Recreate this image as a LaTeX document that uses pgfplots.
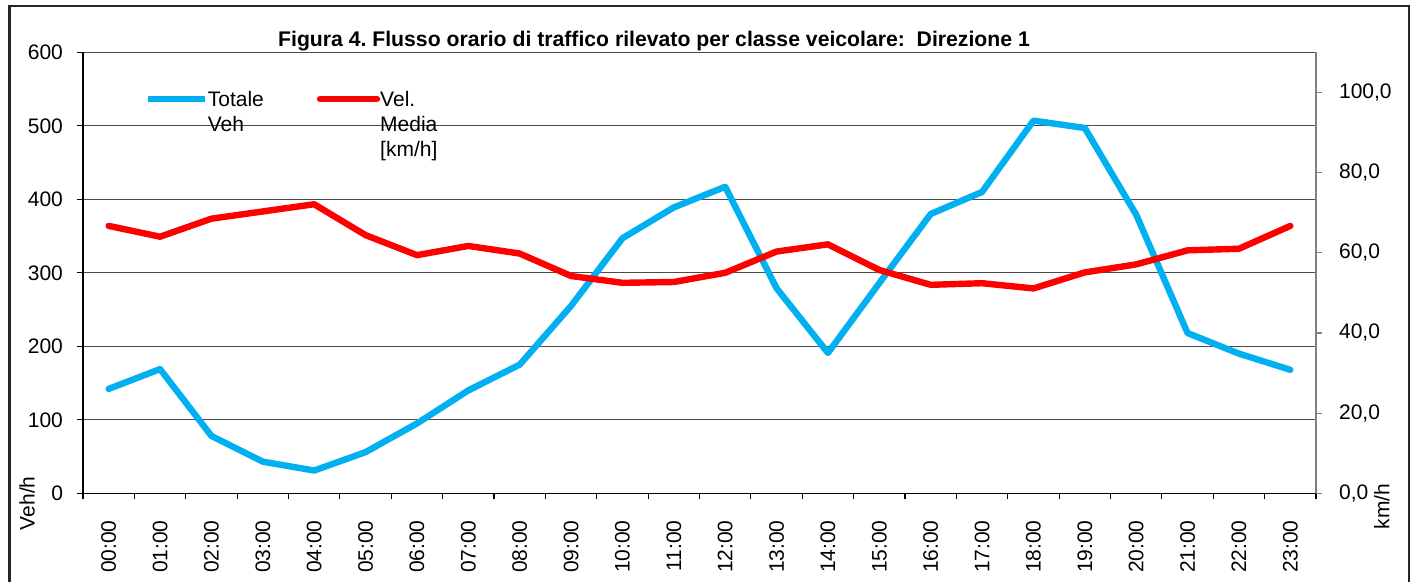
\documentclass[border=0pt]{standalone}
\usepackage{fontspec}
\setmainfont{Liberation Sans}
\usepackage{pgfplots}
\pgfplotsset{compat=1.18}
\definecolor{cblue}{RGB}{0,176,240}
\definecolor{cred}{RGB}{255,0,0}
\definecolor{axgray}{RGB}{128,128,128}
\frenchspacing
\begin{document}
\begin{tikzpicture}
\useasboundingbox (0,0) rectangle (708pt,291pt);
\pgfplotsset{
 common/.style={
  scale only axis, width=616.5pt, height=220.5pt,
  at={(41.5pt,44.35pt)}, anchor=south west,
  xmin=-0.5, xmax=23.5,
  tick align=outside,
  major tick length=3pt, minor tick length=3pt,
  font=\fontsize{10.5}{12.5}\selectfont,
  /pgf/number format/assume math mode=true,
 }
}
\begin{axis}[common,
  ymin=0, ymax=600, ytick={0,100,...,600},
  axis x line*=bottom, axis y line*=left,
  axis line style={black, line width=0.6pt},
  ytick style={black, line width=0.6pt},
  yticklabel style={xshift=-3.5pt},
  ymajorgrids, grid style={black!70, line width=0.6pt},
  xtick={0,...,23},
  xticklabels={00:00,01:00,02:00,03:00,04:00,05:00,06:00,07:00,08:00,09:00,10:00,11:00,12:00,13:00,14:00,15:00,16:00,17:00,18:00,19:00,20:00,21:00,22:00,23:00},
  major x tick style={draw=none},
  minor xtick={-0.5,0.5,...,23.5},
  minor x tick style={black, line width=0.6pt},
  xticklabel style={rotate=90, anchor=east, xshift=-7pt},
  ylabel={Veh/h},
  ylabel style={at={(axis description cs:-0.0454,-0.0227)}, anchor=center},
]
\addplot[cblue, line width=3.2pt, line cap=round, line join=round] coordinates {
(0,142) (1,169) (2,78) (3,43) (4,31) (5,56) (6,95) (7,140) (8,175) (9,255) (10,347) (11,389)
(12,417) (13,279) (14,191) (15,286) (16,380) (17,410) (18,507) (19,497) (20,379) (21,218) (22,190) (23,168)};
\end{axis}
\begin{axis}[common,
  ymin=0, ymax=110, ytick={0,20,...,100},
  axis y line*=right, axis x line=none,
  y axis line style={axgray, line width=0.6pt},
  ytick style={axgray, line width=0.6pt},
  yticklabel style={xshift=5pt, /pgf/number format/.cd, fixed, fixed zerofill, precision=1, use comma},
  ylabel={km/h},
  ylabel style={at={(axis description cs:1.0535,-0.03)}, anchor=center},
  legend columns=2,
  legend cell align=left,
  legend style={at={(axis description cs:0.0495,0.918)}, anchor=north west, draw=none, fill=none,
    inner sep=0pt, column sep=0pt, row sep=0pt, nodes={inner sep=0pt}},
  legend image code/.code={\draw[#1, line width=2pt, line cap=butt] (0pt,0pt) -- (26.5pt,0pt); \path (0pt,0pt) -- (28.5pt,0pt);},
]
\addlegendimage{cblue, line width=3.2pt}
\addplot[cred, line width=3.2pt, line cap=round, line join=round] coordinates {
(0,66.7) (1,64.0) (2,68.5) (3,70.3) (4,72.1) (5,64.4) (6,59.4) (7,61.7) (8,59.8) (9,54.2) (10,52.5) (11,52.7)
(12,55.0) (13,60.3) (14,62.1) (15,55.7) (16,52.0) (17,52.4) (18,51.1) (19,55.1) (20,57.1) (21,60.6) (22,61.0) (23,66.7)};
\legend{{\makebox[54.5pt][l]{\begin{tabular}[t]{@{}l@{}}Totale\\Veh\end{tabular}}},{\begin{tabular}[t]{@{}l@{}}Vel.\\Media\\{[km/h]}\end{tabular}}}
\end{axis}
\node[font=\bfseries\fontsize{10.6}{12.5}\selectfont, anchor=base] at (327pt,267.65pt) {Figura 4. Flusso orario di traffico rilevato per classe veicolare:\ \ Direzione 1};
\draw[line width=1.3pt, black!85] (4.75pt,-5pt) -- (4.75pt,288pt) -- (704.5pt,288pt) -- (704.5pt,-5pt);
\end{tikzpicture}
\end{document}
